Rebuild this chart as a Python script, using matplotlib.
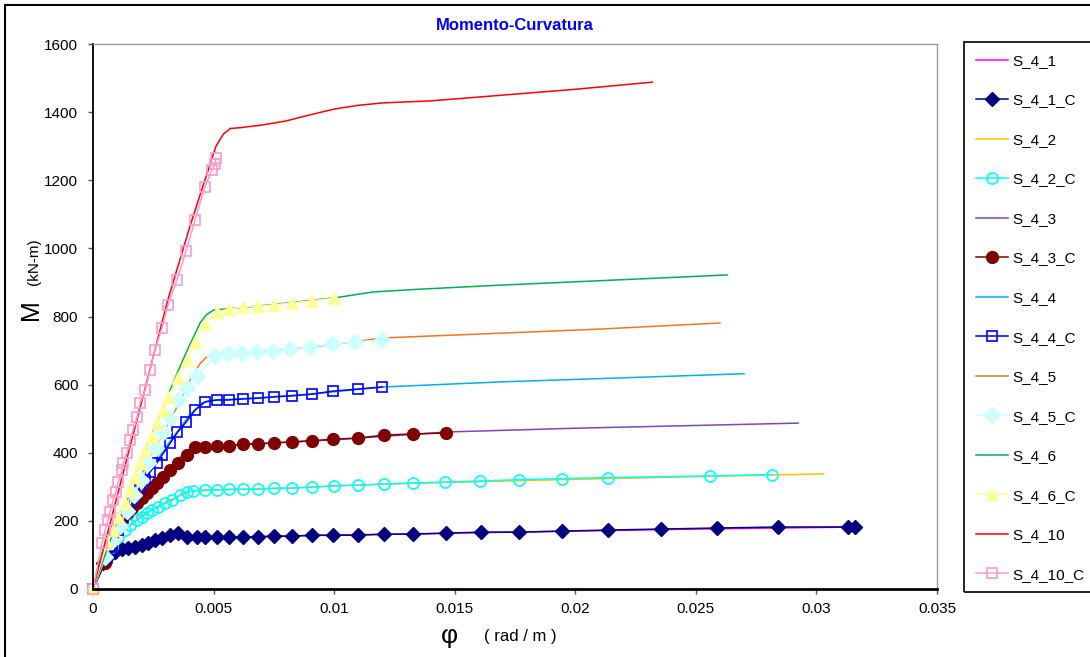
import matplotlib
matplotlib.use("Agg")
import matplotlib.pyplot as plt
from matplotlib.patches import Rectangle
from matplotlib.ticker import FuncFormatter, MultipleLocator

plt.rcParams['font.family'] = ['Liberation Sans', 'DejaVu Sans']

# curvatura (rad/m) y momento (kN-m) de cada sección
phi_s41 = [0, 0.0004, 0.001, 0.002, 0.0028, 0.0035, 0.004, 0.006, 0.01, 0.015, 0.02, 0.025, 0.0317]
m_s41 = [0, 76, 112, 128, 148, 164, 153, 153, 158, 164, 170, 176, 182]

phi_s41c = [0, 0.00041, 0.00062, 0.00091, 0.0012, 0.00145, 0.00174, 0.00203, 0.00228, 0.00257,
            0.00286, 0.0032, 0.00353, 0.0039, 0.00431, 0.00464, 0.00513, 0.00564, 0.00622, 0.00684,
            0.0075, 0.00825, 0.00908, 0.00995, 0.011, 0.01207, 0.01327, 0.01464, 0.01609, 0.01767,
            0.01945, 0.02136, 0.02355, 0.02588, 0.02841, 0.03131, 0.0316]
m_s41c = [0, 76, 94, 109, 117, 120, 123, 129, 135, 144,
          150, 158, 165, 153, 153, 153, 153, 153, 153, 153,
          155, 155, 158, 158, 158, 161, 161, 164, 167, 167,
          170, 173, 176, 179, 182, 182, 182]

phi_s42 = [0, 0.001, 0.002, 0.003, 0.0037, 0.0041, 0.005, 0.008, 0.012, 0.02, 0.0303]
m_s42 = [0, 155, 215, 255, 278, 287, 290, 296, 308, 322, 338]

phi_s42c = [0, 0.0005, 0.00079, 0.00104, 0.00133, 0.00153, 0.00183, 0.00203, 0.00224, 0.00245,
            0.0027, 0.003, 0.00328, 0.0036, 0.0039, 0.00415, 0.00464, 0.00513, 0.00564, 0.00622,
            0.00684, 0.0075, 0.00825, 0.00908, 0.01, 0.011, 0.01207, 0.01327, 0.0146, 0.01605,
            0.01767, 0.01945, 0.02136, 0.02559, 0.02816]
m_s42c = [0, 94, 123, 153, 173, 188, 203, 211, 223, 232,
          241, 252, 261, 275, 285, 288, 291, 291, 293, 293,
          293, 296, 296, 299, 303, 305, 308, 311, 314, 317,
          321, 324, 327, 332, 336]

phi_s43 = [0, 0.001, 0.002, 0.003, 0.0038, 0.0042, 0.005, 0.007, 0.01, 0.01468, 0.02, 0.02924]
m_s43 = [0, 180, 270, 340, 400, 416, 420, 427, 438, 461, 472, 487]

phi_s43c = [0, 0.0005, 0.00079, 0.001, 0.0012, 0.0014, 0.0016, 0.00183, 0.00203, 0.00224,
            0.00245, 0.00265, 0.0029, 0.0032, 0.00353, 0.0039, 0.00423, 0.00464, 0.00513, 0.00564,
            0.00622, 0.00684, 0.0075, 0.00825, 0.00908, 0.00995, 0.011, 0.01207, 0.01327, 0.01464]
m_s43c = [0, 76, 153, 182, 208, 223, 238, 252, 267, 282,
          296, 311, 329, 349, 370, 393, 418, 418, 420, 420,
          426, 426, 429, 432, 435, 440, 443, 452, 455, 458]

phi_s44 = [0, 0.001, 0.002, 0.003, 0.004, 0.0045, 0.0048, 0.0055, 0.007, 0.009, 0.012, 0.0169, 0.022, 0.027]
m_s44 = [0, 170, 305, 415, 510, 545, 553, 556, 562, 572, 593, 608, 620, 632]

phi_s44c = [0, 0.00058, 0.00079, 0.00104, 0.00124, 0.0014, 0.0016, 0.00174, 0.00195, 0.00216,
            0.00237, 0.00265, 0.00286, 0.0032, 0.0035, 0.00386, 0.00423, 0.00464, 0.00513, 0.00564,
            0.00622, 0.00684, 0.0075, 0.00825, 0.00908, 0.00995, 0.011, 0.012]
m_s44c = [0, 91, 123, 173, 208, 226, 252, 276, 300, 320,
          344, 370, 393, 428, 460, 490, 525, 549, 555, 555,
          558, 560, 564, 567, 572, 581, 587, 593]

phi_s45 = [0, 0.001, 0.002, 0.003, 0.0036, 0.004, 0.00444, 0.0047, 0.005, 0.006, 0.008, 0.01, 0.012, 0.0169, 0.021, 0.026]
m_s45 = [0, 175, 335, 470, 550, 610, 662, 680, 688, 693, 703, 718, 737, 751, 763, 781]

phi_s45c = [0, 0.0005, 0.0008, 0.0011, 0.0014, 0.0017, 0.002, 0.0023, 0.0026, 0.0029,
            0.0032, 0.00353, 0.0039, 0.00431, 0.00506, 0.0056, 0.00618, 0.0068, 0.00746, 0.00817,
            0.009, 0.00991, 0.01087, 0.01198]
m_s45c = [0, 95, 140, 185, 230, 275, 320, 370, 415, 461,
          502, 555, 590, 625, 684, 693, 693, 696, 699, 705,
          711, 719, 725, 731]

phi_s46 = [0, 0.001, 0.002, 0.003, 0.0036, 0.004, 0.00444, 0.0047, 0.005, 0.0055, 0.007, 0.0085,
           0.01024, 0.0116, 0.0135, 0.01688, 0.021, 0.0263]
m_s46 = [0, 200, 380, 550, 652, 715, 781, 805, 819, 822, 832, 843,
         857, 872, 880, 892, 905, 922]

phi_s46c = [0, 0.00058, 0.00083, 0.00104, 0.00133, 0.00153, 0.00174, 0.00195, 0.00216, 0.00245,
            0.00265, 0.0029, 0.00311, 0.00353, 0.0039, 0.00423, 0.00464, 0.00513, 0.00564, 0.00622,
            0.00684, 0.0075, 0.00825, 0.00908, 0.01]
m_s46c = [0, 135, 173, 211, 252, 290, 329, 370, 408, 446,
          487, 525, 564, 619, 672, 725, 778, 813, 822, 828,
          831, 834, 840, 846, 854]

phi_s410 = [0, 0.001, 0.002, 0.0031, 0.004, 0.0045, 0.0051, 0.0054, 0.0057, 0.0062, 0.007, 0.008,
            0.009, 0.010, 0.011, 0.012, 0.014, 0.017, 0.020, 0.0232]
m_s410 = [0, 272, 545, 848, 1060, 1170, 1300, 1335, 1352, 1355, 1362, 1374,
          1392, 1409, 1420, 1427, 1433, 1450, 1467, 1488]

phi_s410c = [0, 0.00037, 0.0005, 0.00062, 0.0007, 0.00083, 0.00095, 0.00104, 0.0012, 0.00124,
             0.0014, 0.00154, 0.00166, 0.00183, 0.00195, 0.00216, 0.00237, 0.00257, 0.00286, 0.00311,
             0.00348, 0.00386, 0.00423, 0.00464, 0.00493, 0.00506, 0.0051]
m_s410c = [0, 135, 173, 203, 226, 261, 285, 314, 349, 370,
           399, 437, 467, 505, 546, 584, 643, 702, 766, 834,
           907, 992, 1083, 1180, 1230, 1248, 1265]

series = [
    ("S_4_1", phi_s41, m_s41, dict(color="#FF00FF")),
    ("S_4_1_C", phi_s41c, m_s41c, dict(color="#000080", marker="D", ms=7, mfc="#000080", mec="#000080")),
    ("S_4_2", phi_s42, m_s42, dict(color="#FFC000")),
    ("S_4_2_C", phi_s42c, m_s42c, dict(color="#00FFFF", marker="o", ms=8, mfc="none", mec="#00FFFF", mew=1.2)),
    ("S_4_3", phi_s43, m_s43, dict(color="#7F44B8")),
    ("S_4_3_C", phi_s43c, m_s43c, dict(color="#800000", marker="o", ms=8.5, mfc="#800000", mec="#800000")),
    ("S_4_4", phi_s44, m_s44, dict(color="#00B0F0")),
    ("S_4_4_C", phi_s44c, m_s44c, dict(color="#0000FF", marker="s", ms=6.5, mfc="none", mec="#0000FF", mew=1.2)),
    ("S_4_5", phi_s45, m_s45, dict(color="#F07820")),
    ("S_4_5_C", phi_s45c, m_s45c, dict(color="#CCFFFF", marker="D", ms=8, mfc="#CCFFFF", mec="#CCFFFF")),
    ("S_4_6", phi_s46, m_s46, dict(color="#00B050")),
    ("S_4_6_C", phi_s46c, m_s46c, dict(color="#FFFF99", marker="^", ms=9, mfc="#FFFF99", mec="#FFFF99")),
    ("S_4_10", phi_s410, m_s410, dict(color="#FF0000")),
    ("S_4_10_C", phi_s410c, m_s410c, dict(color="#FF99CC", marker="s", ms=7, mfc="none", mec="#FF99CC", mew=1.2)),
]

W, H = 1090, 657
fig = plt.figure(figsize=(W / 100, H / 100), dpi=100)
ax = fig.add_axes([93 / W, 1 - 589 / H, (937 - 93) / W, (589 - 44) / H])

for nombre, x, y, estilo in series:
    ax.plot(x, y, lw=1.1, label=nombre, clip_on=False, **estilo)

ax.set_xlim(0, 0.035)
ax.set_ylim(0, 1600)
ax.xaxis.set_major_locator(MultipleLocator(0.005))
ax.yaxis.set_major_locator(MultipleLocator(200))
ax.xaxis.set_major_formatter(FuncFormatter(lambda v, p: f"{v:g}"))
ax.tick_params(axis="both", direction="out", length=3.6, width=1, color="#555555",
               labelsize=11, labelcolor="black")
ax.tick_params(axis="x", pad=6)
ax.tick_params(axis="y", pad=7)

for lado in ("top", "right"):
    ax.spines[lado].set_color("#999999")
    ax.spines[lado].set_linewidth(1)
ax.spines["left"].set_color("black")
ax.spines["left"].set_linewidth(1.3)
ax.spines["bottom"].set_color("black")
ax.spines["bottom"].set_linewidth(2)

# titulo y etiquetas de ejes
fig.text(515 / W, 1 - 25 / H, "Momento-Curvatura", ha="center", va="center",
         color="#0000FF", fontsize=12, fontweight="bold")
fig.text(31 / W, 1 - 310 / H, "M", rotation=90, ha="center", va="center", fontsize=18)
fig.text(34 / W, 1 - 262 / H, "(kN-m)", rotation=90, ha="center", va="center", fontsize=11)
fig.text(449 / W, 1 - 636 / H, "φ", ha="center", va="center", fontsize=19)
fig.text(520 / W, 1 - 636 / H, "( rad / m )", ha="center", va="center", fontsize=12)

leg = fig.legend(loc="upper left", bbox_to_anchor=(964 / W, 1 - 41.7 / H),
                 bbox_transform=fig.transFigure, fontsize=11, frameon=False,
                 numpoints=1, handlelength=2.1, handletextpad=0.28, labelspacing=1.67,
                 borderpad=0.8, borderaxespad=0)

# recuadro de la leyenda, abierto por la derecha
fig.add_artist(Rectangle((964 / W, 1 - 592 / H), 0.2, (592 - 41.7) / H,
                         transform=fig.transFigure, fill=False, edgecolor="black", lw=1.2))

# marco exterior del grafico
fig.add_artist(Rectangle((5 / W, -0.1), 1.2, 1.1 - 5 / H, transform=fig.transFigure,
                         fill=False, edgecolor="black", lw=1.5))

fig.savefig("out.png", dpi=100)
